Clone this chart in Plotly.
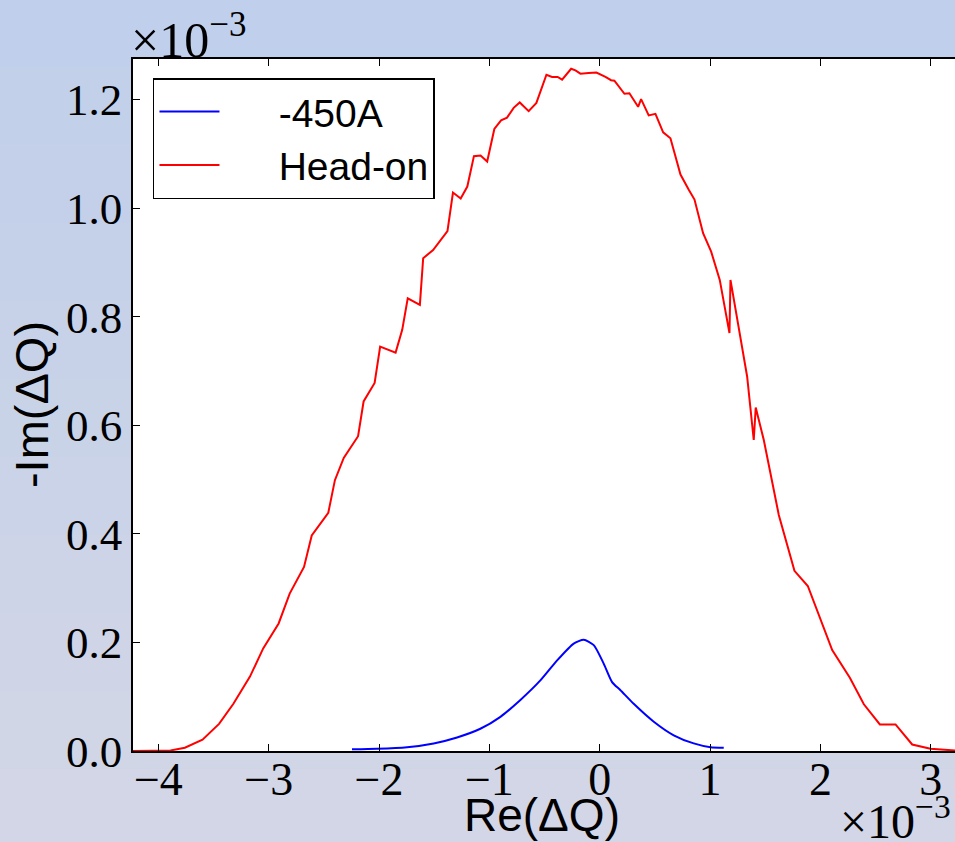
import plotly.graph_objects as go

# Data (units of 1e-3)
headon_re = [-4.23, -3.89, -3.76, -3.60, -3.45, -3.32, -3.17, -3.05, -2.91, -2.81, -2.68, -2.61,
             -2.46, -2.40, -2.32, -2.19, -2.14, -2.04, -1.99, -1.85, -1.79, -1.74, -1.63, -1.60,
             -1.51, -1.44, -1.38, -1.33, -1.26, -1.20, -1.14, -1.08, -1.02, -0.955, -0.894, -0.84,
             -0.78, -0.725, -0.644, -0.574, -0.483, -0.432, -0.381, -0.341, -0.259, -0.22, -0.175,
             -0.10, -0.03, 0.052, 0.103, 0.133, 0.224, 0.269, 0.348, 0.375, 0.444, 0.505, 0.575,
             0.641, 0.732, 0.807, 0.859, 0.937, 1.01, 1.088, 1.176, 1.185, 1.276, 1.336, 1.396,
             1.414, 1.487, 1.623, 1.765, 1.886, 2.107, 2.267, 2.394, 2.539, 2.681, 2.832, 2.998, 3.22]
headon_im = [0.000, 0.001, 0.006, 0.021, 0.050, 0.087, 0.137, 0.189, 0.235, 0.290, 0.339, 0.397,
             0.439, 0.499, 0.540, 0.580, 0.644, 0.678, 0.745, 0.734, 0.776, 0.834, 0.822, 0.908,
             0.923, 0.942, 0.958, 1.029, 1.018, 1.040, 1.096, 1.097, 1.086, 1.146, 1.162, 1.167,
             1.185, 1.195, 1.179, 1.194, 1.246, 1.242, 1.242, 1.237, 1.257, 1.254, 1.248,
             1.249, 1.250, 1.242, 1.236, 1.235, 1.211, 1.212, 1.187, 1.201, 1.171, 1.174, 1.140,
             1.129, 1.062, 1.034, 1.016, 0.954, 0.920, 0.868, 0.770, 0.868, 0.764, 0.690, 0.573,
             0.633, 0.573, 0.435, 0.332, 0.304, 0.186, 0.135, 0.086, 0.049, 0.049, 0.012, 0.004, 0.001]

a450_re = [-2.245, -2.02, -1.746, -1.505, -1.293, -1.082, -0.900, -0.719, -0.538, -0.386, -0.236,
           -0.145, -0.054, 0.036, 0.112, 0.188, 0.308, 0.490, 0.671, 0.852, 1.004, 1.124]
a450_im = [0.003, 0.004, 0.007, 0.014, 0.025, 0.041, 0.063, 0.094, 0.130, 0.167, 0.198,
           0.205, 0.195, 0.161, 0.127, 0.112, 0.087, 0.054, 0.029, 0.014, 0.007, 0.006]

series_names = ["-450A", "Head-on"]
x_tickvals = [-4, -3, -2, -1, 0, 1, 2, 3]
x_ticktext = ["\u22124", "\u22123", "\u22122", "\u22121", "0", "1", "2", "3"]
y_tickvals = [0.0, 0.2, 0.4, 0.6, 0.8, 1.0, 1.2]
y_ticktext = ["0.0", "0.2", "0.4", "0.6", "0.8", "1.0", "1.2"]

SERIF = "Liberation Serif"
SANS = "Liberation Sans"
NB = "\u00a0"

fig = go.Figure()
fig.add_trace(go.Scatter(x=a450_re, y=a450_im, mode="lines", name=NB * 5 + series_names[0],
                         line=dict(color="#0000ff", width=2, shape="spline", smoothing=0.6)))
fig.add_trace(go.Scatter(x=headon_re, y=headon_im, mode="lines", name=NB * 5 + series_names[1],
                         line=dict(color="#ff0000", width=2)))

# background gradient bands (outside plot area), then white plot area on top
top = (192, 207, 235)
bot = (212, 215, 229)
n = 12
shapes = []
for i in range(n):
    t = i / (n - 1)
    c = tuple(int(round(top[k] + (bot[k] - top[k]) * t)) for k in range(3))
    shapes.append(dict(type="rect", xref="paper", yref="paper", layer="below",
                       x0=-0.2, x1=1.05, y0=1.1 - (i + 1) * 1.35 / n, y1=1.1 - i * 1.35 / n,
                       fillcolor="rgb(%d,%d,%d)" % c, line=dict(width=0)))
shapes.append(dict(type="rect", xref="paper", yref="paper", layer="below",
                   x0=0, x1=1, y0=0, y1=1, fillcolor="white", line=dict(width=0)))

fig.update_layout(
    width=955, height=842,
    margin=dict(l=133, r=0, t=59, b=91),
    paper_bgcolor="rgb(202,211,232)",
    plot_bgcolor="white",
    shapes=shapes,
    showlegend=True,
    legend=dict(x=0.0243, y=0.9725, xanchor="left", yanchor="top",
                bgcolor="white", bordercolor="black", borderwidth=1.5,
                font=dict(family=SANS, size=39, color="black"),
                itemwidth=60, tracegroupgap=0),
    xaxis=dict(range=[-4.23, 3.22], tickmode="array", tickvals=x_tickvals, ticktext=x_ticktext,
               ticks="inside", ticklen=7, tickcolor="black", tickwidth=1,
               showline=True, linecolor="black", linewidth=1.5, mirror="ticks",
               showgrid=False, zeroline=False, ticklabelstandoff=-13,
               tickfont=dict(family=SERIF, size=46, color="black")),
    yaxis=dict(range=[0, 1.275], tickmode="array", tickvals=y_tickvals, ticktext=y_ticktext,
               ticks="inside", ticklen=7, tickcolor="black", tickwidth=1,
               showline=True, linecolor="black", linewidth=1.5, mirror=False,
               showgrid=False, zeroline=False,
               tickfont=dict(family=SERIF, size=45, color="black")),
    annotations=[
        dict(text="Re(\u0394Q)", xref="paper", yref="paper", x=0.497, y=-0.093,
             xanchor="center", yanchor="middle", showarrow=False,
             font=dict(family=SANS, size=46, color="black")),
        dict(text="-Im(\u0394Q)", xref="paper", yref="paper", x=-0.124, y=0.5,
             xanchor="center", yanchor="middle", showarrow=False, textangle=-90,
             font=dict(family=SANS, size=47, color="black")),
        dict(text="\u00d710<sup>\u22123</sup>", xref="paper", yref="paper", x=0.068, y=1.033,
             xanchor="center", yanchor="middle", showarrow=False,
             font=dict(family=SERIF, size=50, color="black")),
        dict(text="\u00d710<sup>\u22123</sup>", xref="paper", yref="paper", x=0.997, y=-0.097,
             xanchor="right", yanchor="middle", showarrow=False,
             font=dict(family=SERIF, size=48, color="black")),
    ],
)

fig.write_html("out.html")
